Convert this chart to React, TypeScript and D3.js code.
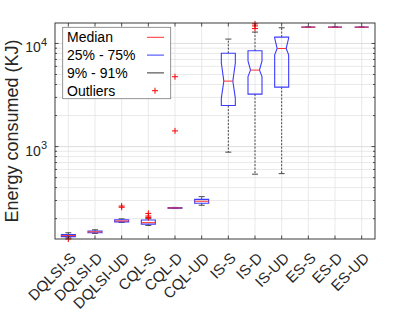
import React from 'react';
import * as d3 from 'd3';

// box plot data (KJ)
const categories = ['DQLSI-S', 'DQLSI-D', 'DQLSI-UD', 'CQL-S', 'CQL-D', 'CQL-UD', 'IS-S', 'IS-D', 'IS-UD', 'ES-S', 'ES-D', 'ES-UD'];
const q1 = [134, 146, 186, 177, 252, 282, 2500, 3230, 3770, 14400, 14400, 14400];
const medians = [137, 149, 190, 183, 254, 295, 4315, 5520, 8940, 14400, 14400, 14400];
const q3 = [140, 152, 195, 194, 256, 308, 8050, 8490, 11530, 14400, 14400, 14400];
const whiskerLo = [130, 144, 184, 172, 251, 270, 883, 540, 547, 14400, 14400, 14400];
const whiskerHi = [146, 156, 199, 200, 257, 327, 11030, 12900, 14200, 14400, 14400, 14400];
const notchLo: (number | null)[] = [null, null, null, null, null, null, 2950, 4780, 7770, null, null, null];
const notchHi: (number | null)[] = [null, null, null, null, null, null, 6460, 6790, 11300, null, null, null];
const outliers = [[127], [], [265, 258], [225, 212, 205], [4760, 1420], [], [], [15500, 14800, 13950], [], [], [], []];

const legendItems = ['Median', '25% - 75%', '9% - 91%', 'Outliers'];

const W = 415, H = 312;
const margin = { left: 55, right: 40, top: 23, bottom: 73 };
const font = '"Liberation Sans", Arial, sans-serif';
const axisColor = '#262626';

export default function App() {
  const x = d3.scaleLinear().domain([0.5, categories.length + 0.5]).range([margin.left, W - margin.right]);
  const y = d3.scaleLog().domain([127, 15800]).range([H - margin.bottom, margin.top]);
  const [x0, x1] = x.range();
  const [yb, yt] = y.range();

  const majors = [1000, 10000];
  const minors: number[] = [];
  [100, 1000, 10000].forEach(d => { for (let k = 2; k <= 9; k++) { const v = d * k; if (v >= 127 && v <= 15800) minors.push(v); } });

  const halfBox = 7, inset = 2.5, cap = 3;

  return (
    <svg width={W} height={H} style={{ position: 'absolute', left: 0, top: 0, background: '#fff' }} fontFamily={font}>
      {/* grid */}
      <g stroke="#e3e3e3" strokeWidth={0.8}>
        {minors.map(v => <line key={'m' + v} x1={x0} x2={x1} y1={y(v)} y2={y(v)} />)}
        {categories.map((c, i) => <line key={c} x1={x(i + 1)} x2={x(i + 1)} y1={yb} y2={yt} />)}
      </g>
      <g stroke="#d6d6d6" strokeWidth={0.8}>
        {majors.map(v => <line key={'M' + v} x1={x0} x2={x1} y1={y(v)} y2={y(v)} />)}
      </g>

      {/* boxes */}
      {categories.map((c, i) => {
        const cx = x(i + 1);
        const l = cx - halfBox, r = cx + halfBox;
        const nlo = notchLo[i], nhi = notchHi[i];
        let pts: [number, number][];
        if (nlo != null && nhi != null) {
          pts = [[l, y(q3[i])], [l, y(nhi)], [l + inset, y(medians[i])], [l, y(nlo)], [l, y(q1[i])],
            [r, y(q1[i])], [r, y(nlo)], [r - inset, y(medians[i])], [r, y(nhi)], [r, y(q3[i])]];
        } else {
          pts = [[l, y(q3[i])], [l, y(q1[i])], [r, y(q1[i])], [r, y(q3[i])]];
        }
        const ml = nlo != null ? l + inset : l, mr = nlo != null ? r - inset : r;
        return (
          <g key={c}>
            <line x1={cx} x2={cx} y1={y(q3[i])} y2={y(whiskerHi[i])} stroke="#333" strokeWidth={0.9} strokeDasharray="2,1.5" />
            <line x1={cx} x2={cx} y1={y(q1[i])} y2={y(whiskerLo[i])} stroke="#333" strokeWidth={0.9} strokeDasharray="2,1.5" />
            <line x1={cx - cap} x2={cx + cap} y1={y(whiskerHi[i])} y2={y(whiskerHi[i])} stroke="#333" strokeWidth={0.9} />
            <line x1={cx - cap} x2={cx + cap} y1={y(whiskerLo[i])} y2={y(whiskerLo[i])} stroke="#333" strokeWidth={0.9} />
            <polygon points={pts.map(p => p.join(',')).join(' ')} fill="none" stroke="#3b3bff" strokeWidth={1.1} />
            <line x1={ml} x2={mr} y1={y(medians[i])} y2={y(medians[i])} stroke="#ff3030" strokeWidth={1} />
            {outliers[i].map((v, j) => (
              <path key={j} d={`M${cx - 3},${y(v)}H${cx + 3}M${cx},${y(v) - 3}V${y(v) + 3}`} stroke="#ff0000" strokeWidth={1} />
            ))}
          </g>
        );
      })}

      {/* axes box & ticks */}
      <rect x={x0} y={yt} width={x1 - x0} height={yb - yt} fill="none" stroke={axisColor} strokeWidth={0.9} />
      <g stroke={axisColor} strokeWidth={0.8}>
        {categories.map((c, i) => (
          <g key={c}>
            <line x1={x(i + 1)} x2={x(i + 1)} y1={yb} y2={yb - 3.5} />
            <line x1={x(i + 1)} x2={x(i + 1)} y1={yt} y2={yt + 3.5} />
          </g>
        ))}
        {majors.map(v => (
          <g key={v}>
            <line x1={x0} x2={x0 + 3.5} y1={y(v)} y2={y(v)} />
            <line x1={x1} x2={x1 - 3.5} y1={y(v)} y2={y(v)} />
          </g>
        ))}
        {minors.map(v => (
          <g key={v}>
            <line x1={x0} x2={x0 + 2} y1={y(v)} y2={y(v)} />
            <line x1={x1} x2={x1 - 2} y1={y(v)} y2={y(v)} />
          </g>
        ))}
      </g>

      {/* y tick labels */}
      {majors.map(v => (
        <text key={v} x={x0 - 8} y={y(v) + 9} textAnchor="end" fontSize={14} fill={axisColor}>
          10<tspan dy={-6.5} fontSize={11}>{Math.round(Math.log10(v))}</tspan>
        </text>
      ))}

      {/* x tick labels */}
      {categories.map((c, i) => (
        <text key={c} transform={`translate(${x(i + 1) + 8.5},${yb + 20}) rotate(-45)`} textAnchor="end" fontSize={15} fill={axisColor}>{c}</text>
      ))}

      {/* y label */}
      <text transform={`translate(18,${(yt + yb) / 2}) rotate(-90)`} textAnchor="middle" fontSize={18} fill={axisColor}>Energy consumed (KJ)</text>

      {/* legend */}
      <g>
        <rect x={62.7} y={27.3} width={108} height={71.4} fill="#fff" stroke="#7a7a7a" strokeWidth={0.8} />
        {legendItems.map((t, k) => {
          const cy = 37.3 + k * 17.8;
          return (
            <g key={t}>
              <text x={67} y={cy + 5} fontSize={14} fill="#000">{t}</text>
              {k === 0 && <line x1={147} x2={164} y1={cy} y2={cy} stroke="#ff3030" />}
              {k === 1 && <line x1={147} x2={164} y1={cy} y2={cy} stroke="#3b3bff" />}
              {k === 2 && <line x1={147} x2={164} y1={cy} y2={cy} stroke="#333" />}
              {k === 3 && <path d={`M152,${cy}H158M155,${cy - 3}V${cy + 3}`} stroke="#ff0000" />}
            </g>
          );
        })}
      </g>
    </svg>
  );
}
